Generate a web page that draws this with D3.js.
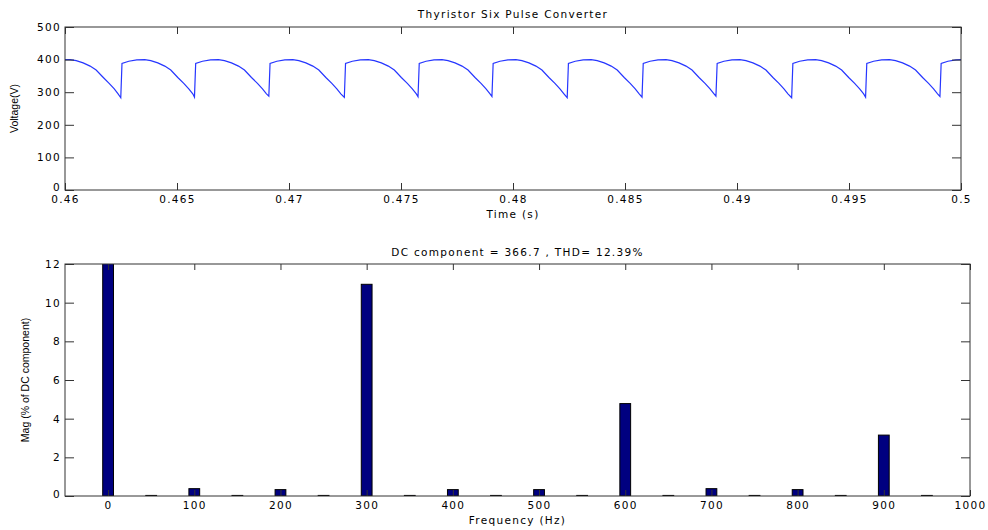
<!DOCTYPE html>
<html lang="en">
  <head>
    <meta charset="utf-8">
    <title>Thyristor Six Pulse Converter</title>
    <style>
      body { margin: 0; background: #fff; }
      .tick text { font-family: "DejaVu Sans", sans-serif; font-size: 10.5px; letter-spacing: 1.3px; fill: #000; }
      .ttl { font-family: "DejaVu Sans", sans-serif; font-size: 10.5px; letter-spacing: 1.3px; fill: #000; }
      .ylab { font-family: "Liberation Sans", Arial, sans-serif; font-size: 10.5px; fill: #000; }
      .domain { display: none; }
      .tick line { stroke: #333; }
    </style>
  </head>
  <body>
    <script src="https://d3js.org/d3.v7.min.js"></script>
    <script>

    // top plot: rectified voltage
    const timeTicks = [0.46, 0.465, 0.47, 0.475, 0.48, 0.485, 0.49, 0.495, 0.5]
    const voltTicks = [0, 100, 200, 300, 400, 500]

    // firing notches (s) and the voltage at the bottom of each notch
    const dipTimes = [0.46249, 0.46578, 0.46910, 0.47247, 0.47576, 0.47906,
                      0.48242, 0.48576, 0.48906, 0.49244, 0.49574, 0.49906]
    const dipVolts = [283, 285, 288, 284, 286, 287, 283, 285, 288, 283, 285, 287]

    // one ripple period after a notch: ms after the notch, volts
    const rippleMs = [0.054, 0.357, 0.714, 1.071, 1.339, 1.652, 1.964, 2.232, 2.545, 2.812, 3.036, 3.214]
    const rippleV  = [388, 395, 399, 400, 397, 390, 380, 368, 345, 327, 310, 295]

    // start of the trace before the first notch
    const leadT = [0.46, 0.46023, 0.46050, 0.46081, 0.46112, 0.46139, 0.46171, 0.46197, 0.46220, 0.46237]
    const leadV = [400, 400, 397, 390, 380, 368, 345, 327, 310, 295]

    // bottom plot: harmonic spectrum
    const freqs = [0, 50, 100, 150, 200, 250, 300, 350, 400, 450,
                   500, 550, 600, 650, 700, 750, 800, 850, 900, 950]
    const mags  = [100, 0.03, 0.38, 0.03, 0.33, 0.03, 10.95, 0.03, 0.33, 0.03,
                   0.33, 0.03, 4.78, 0.03, 0.38, 0.03, 0.33, 0.03, 3.15, 0.03]
    const freqTicks = [0, 100, 200, 300, 400, 500, 600, 700, 800, 900, 1000]
    const magTicks = [0, 2, 4, 6, 8, 10, 12]

    const w = 988
    const h = 530

    const svg = d3.select("body").append("svg")
      .attr("width", w).attr("height", h)

    // build the voltage series from the read values
    const trace = leadT.map((t, i) => ({t: t, v: leadV[i]}))
    dipTimes.forEach((d, i) => {
      trace.push({t: d, v: dipVolts[i]})
      rippleMs.forEach((m, j) => trace.push({t: d + m / 1000, v: rippleV[j]}))
    })

    // ---------- top plot ----------
    const tp = {l: 65, r: 961, t: 27, b: 190}

    const xT = d3.scaleLinear().domain([0.46, 0.5]).range([tp.l, tp.r])
    const yT = d3.scaleLinear().domain([0, 500]).range([tp.b, tp.t])

    svg.append("clipPath").attr("id", "clipTop")
      .append("rect").attr("x", tp.l).attr("y", tp.t)
      .attr("width", tp.r - tp.l).attr("height", tp.b - tp.t)

    svg.append("path")
      .datum(trace)
      .attr("clip-path", "url(#clipTop)")
      .attr("fill", "none")
      .attr("stroke", "#2636ff")
      .attr("stroke-width", 1.2)
      .attr("d", d3.line().x(d => xT(d.t)).y(d => yT(d.v)))

    svg.append("g")
      .attr("transform", `translate(0, ${tp.b})`)
      .call(d3.axisBottom(xT).tickValues(timeTicks).tickSize(-7).tickPadding(6)
        .tickFormat(d => String(+d.toFixed(3))))
    svg.append("g")
      .attr("transform", `translate(0, ${tp.t})`)
      .call(d3.axisTop(xT).tickValues(timeTicks).tickSize(-7).tickFormat(""))
    svg.append("g")
      .attr("transform", `translate(${tp.l}, 0)`)
      .call(d3.axisLeft(yT).tickValues(voltTicks).tickSize(-9).tickPadding(4))
      .selectAll(".tick text").filter(d => d === 0).attr("dy", "0.02em")
    svg.append("g")
      .attr("transform", `translate(${tp.r}, 0)`)
      .call(d3.axisRight(yT).tickValues(voltTicks).tickSize(-9).tickFormat(""))

    svg.append("rect")
      .attr("x", tp.l).attr("y", tp.t)
      .attr("width", tp.r - tp.l).attr("height", tp.b - tp.t)
      .attr("fill", "none").attr("stroke", "#333")

    svg.append("text").attr("class", "ttl")
      .attr("x", (tp.l + tp.r) / 2).attr("y", 18)
      .attr("text-anchor", "middle")
      .text("Thyristor Six Pulse Converter")

    svg.append("text").attr("class", "ttl")
      .attr("x", (tp.l + tp.r) / 2).attr("y", 217.5)
      .attr("text-anchor", "middle")
      .text("Time (s)")

    svg.append("text").attr("class", "ylab")
      .attr("transform", `translate(18, ${(tp.t + tp.b) / 2}) rotate(-90)`)
      .attr("text-anchor", "middle")
      .text("Voltage(V)")

    // ---------- bottom plot ----------
    const bt = {l: 65, r: 970, t: 264, b: 496}
    const barW = 12.5 // Hz

    const xB = d3.scaleLinear().domain([-50, 1000]).range([bt.l, bt.r])
    const yB = d3.scaleLinear().domain([0, 12]).range([bt.b, bt.t])

    svg.append("clipPath").attr("id", "clipBot")
      .append("rect").attr("x", bt.l).attr("y", bt.t)
      .attr("width", bt.r - bt.l).attr("height", bt.b - bt.t)

    svg.append("g")
      .attr("clip-path", "url(#clipBot)")
      .selectAll("rect")
      .data(freqs)
      .enter().append("rect")
      .attr("x", d => xB(d - barW / 2))
      .attr("width", d => xB(d + barW / 2) - xB(d - barW / 2))
      .attr("y", (d, i) => yB(mags[i]))
      .attr("height", (d, i) => yB(0) - yB(mags[i]))
      .attr("fill", "#000080")
      .attr("stroke", "#000")
      .attr("stroke-width", 1)

    svg.append("g")
      .attr("transform", `translate(0, ${bt.b})`)
      .call(d3.axisBottom(xB).tickValues(freqTicks).tickSize(-6).tickPadding(6)
        .tickFormat(d3.format("d")))
    svg.append("g")
      .attr("transform", `translate(0, ${bt.t})`)
      .call(d3.axisTop(xB).tickValues(freqTicks).tickSize(-6).tickFormat(""))
    svg.append("g")
      .attr("transform", `translate(${bt.l}, 0)`)
      .call(d3.axisLeft(yB).tickValues(magTicks).tickSize(-9).tickPadding(4))
      .selectAll(".tick text").filter(d => d === 0).attr("dy", "0.1em")
    svg.append("g")
      .attr("transform", `translate(${bt.r}, 0)`)
      .call(d3.axisRight(yB).tickValues(magTicks).tickSize(-9).tickFormat(""))

    svg.append("rect")
      .attr("x", bt.l).attr("y", bt.t)
      .attr("width", bt.r - bt.l).attr("height", bt.b - bt.t)
      .attr("fill", "none").attr("stroke", "#333")

    svg.append("text").attr("class", "ttl")
      .attr("x", (bt.l + bt.r) / 2).attr("y", 256)
      .attr("text-anchor", "middle")
      .text("DC component = 366.7 , THD= 12.39%")

    svg.append("text").attr("class", "ttl")
      .attr("x", (bt.l + bt.r) / 2).attr("y", 524)
      .attr("text-anchor", "middle")
      .text("Frequency (Hz)")

    svg.append("text").attr("class", "ylab")
      .attr("transform", `translate(29, ${(bt.t + bt.b) / 2}) rotate(-90)`)
      .attr("text-anchor", "middle")
      .text("Mag (% of DC component)")

    </script>
  </body>
</html>
